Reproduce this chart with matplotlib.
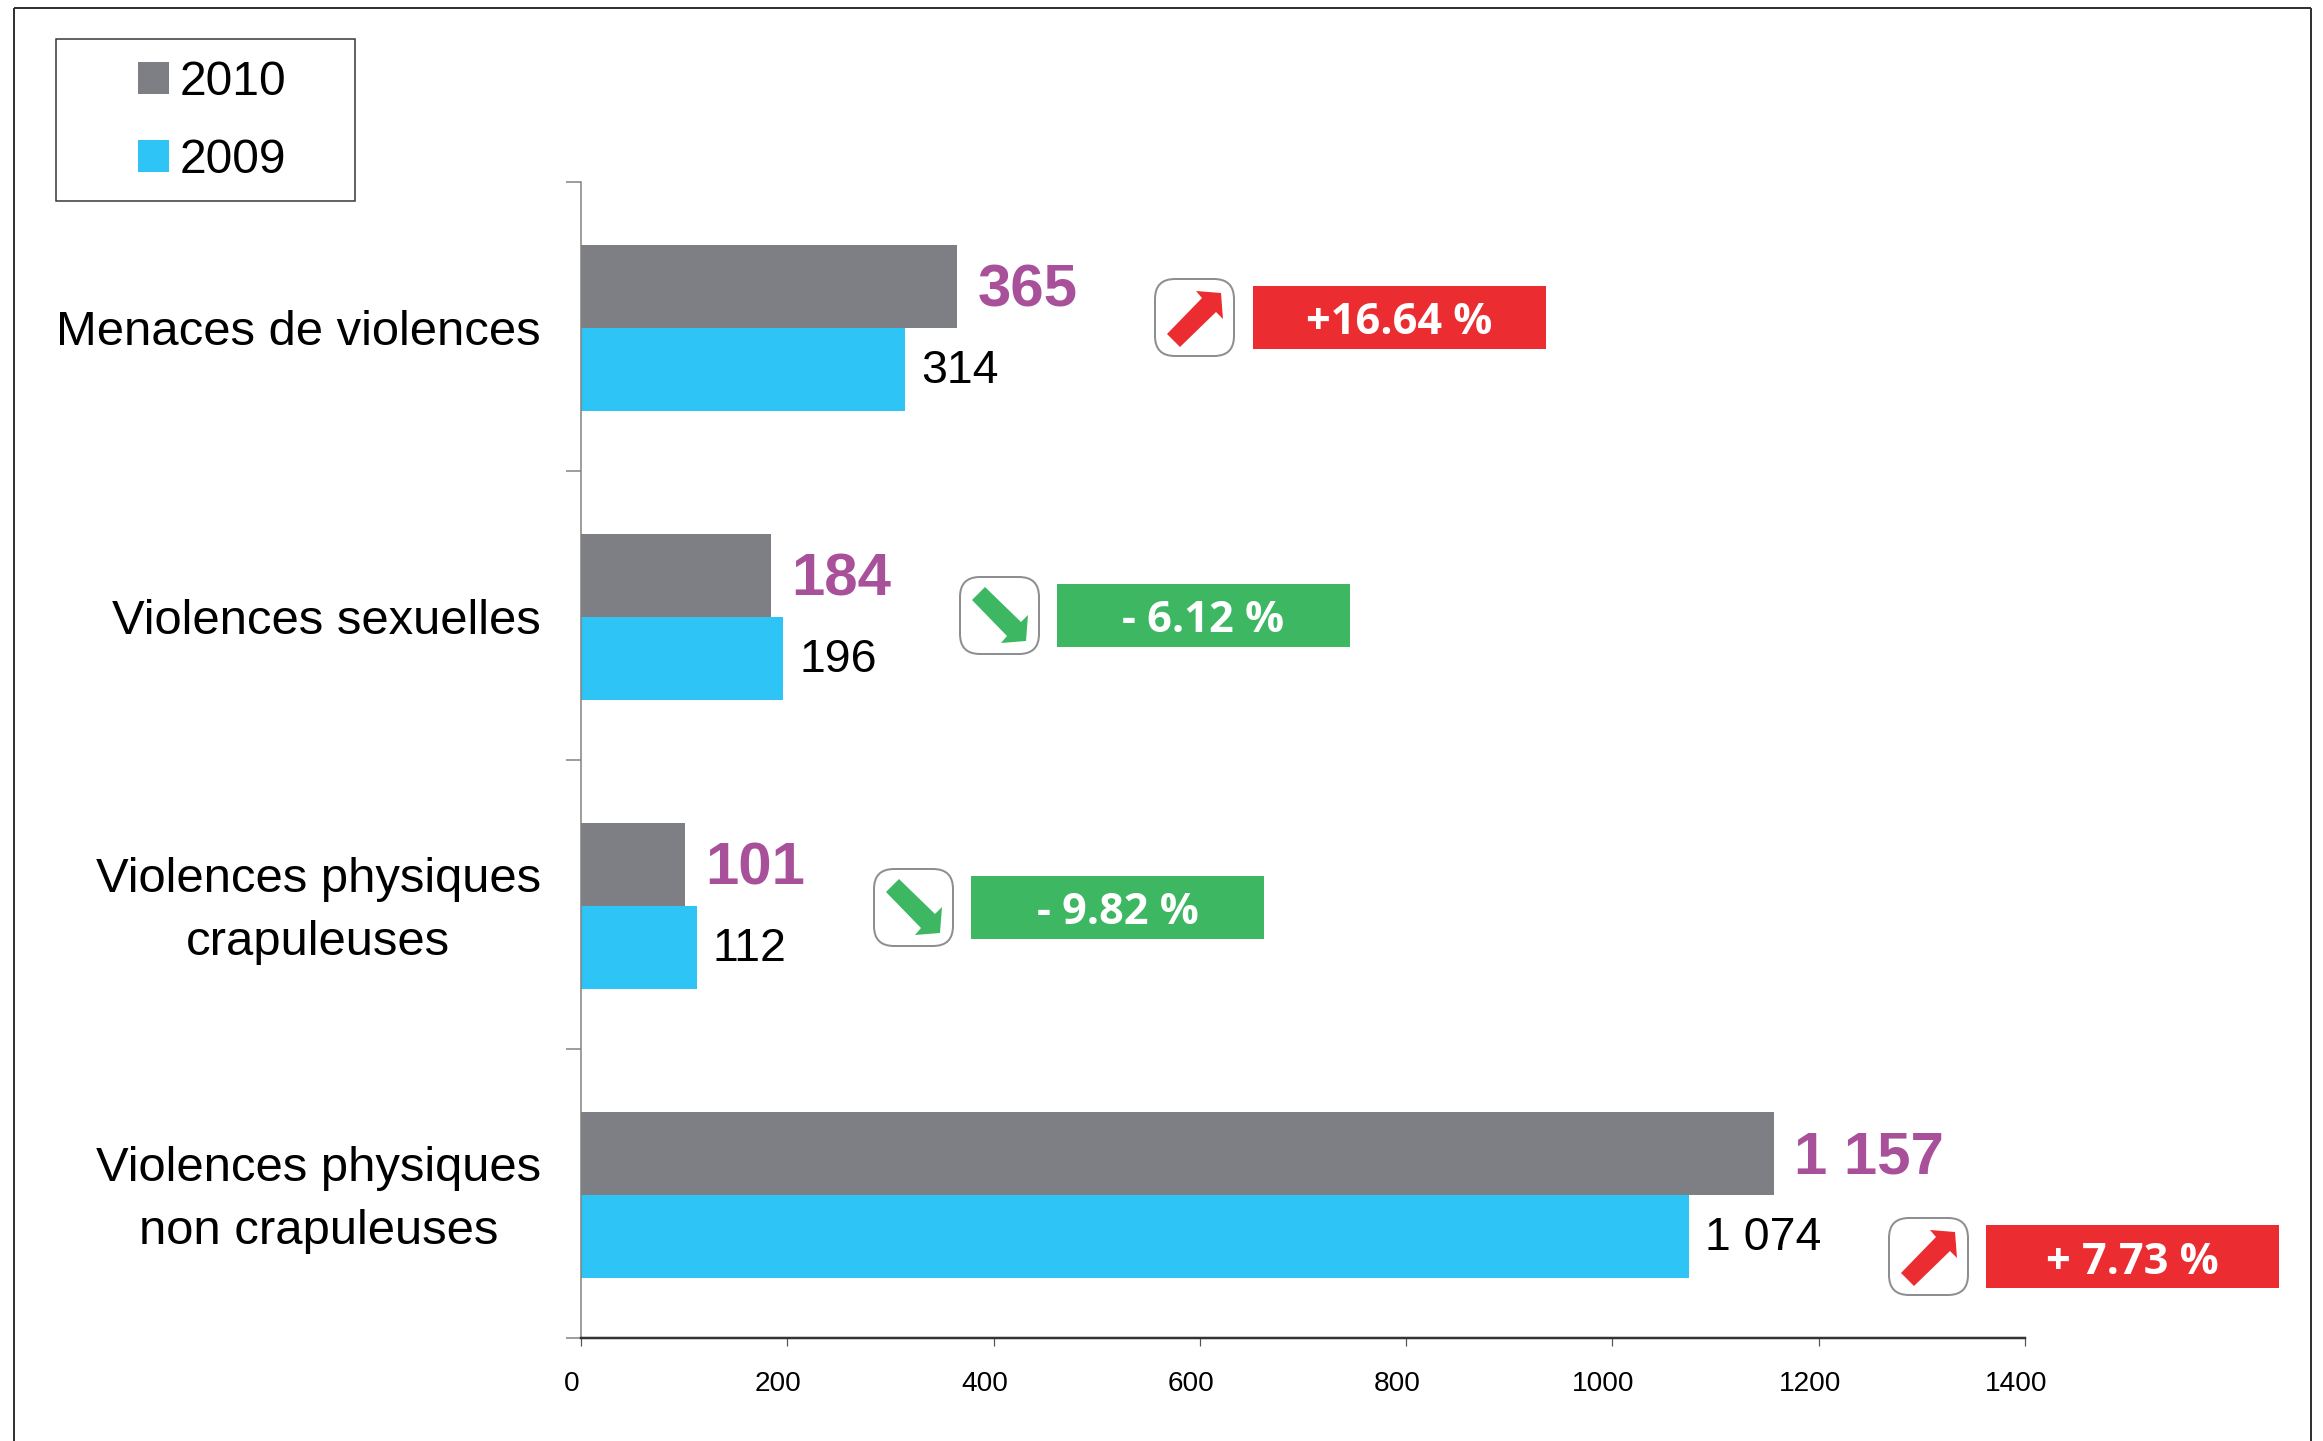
import matplotlib
matplotlib.use("Agg")
import matplotlib.pyplot as plt
from matplotlib.patches import Rectangle, FancyBboxPatch, Polygon
from matplotlib.transforms import ScaledTranslation

categories = ["Menaces de violences", "Violences sexuelles",
              "Violences physiques\ncrapuleuses", "Violences physiques\nnon crapuleuses"]
values_2010 = [365, 184, 101, 1157]
values_2009 = [314, 196, 112, 1074]
labels_2010 = ["365", "184", "101", "1 157"]
labels_2009 = ["314", "196", "112", "1 074"]
changes = ["+16.64 %", "- 6.12 %", "- 9.82 %", "+ 7.73 %"]
x_ticks = [0, 200, 400, 600, 800, 1000, 1200, 1400]

GRAY, CYAN, RED, GREEN, PURPLE = "#7E7F84", "#2EC4F6", "#EB2C31", "#3DB762", "#A8509A"
W, H = 2323, 1441
DPI = 100
px = 72 / DPI
SANS = "Liberation Sans"

fig = plt.figure(figsize=(W / DPI, H / DPI), dpi=DPI, facecolor="white")

# overlay in pixel coordinates for frame, legend box and badges
ov = fig.add_axes([0, 0, 1, 1], zorder=3)
ov.set_xlim(0, W); ov.set_ylim(H, 0); ov.axis("off"); ov.patch.set_alpha(0)

ax = fig.add_axes([581 / W, 1 - 1338 / H, (2025 - 581) / W, (1338 - 182) / H])
ax.set_xlim(0, 1400)
ax.set_ylim(4, 0)
ax.patch.set_alpha(0)
centers = [i + 0.505 for i in range(len(categories))]
bar_h = 0.288
ax.barh([c - bar_h / 2 for c in centers], values_2010, height=bar_h, color=GRAY, linewidth=0, label="2010")
ax.barh([c + bar_h / 2 for c in centers], values_2009, height=bar_h, color=CYAN, linewidth=0, label="2009")

for c, v, t in zip(centers, values_2010, labels_2010):
    ax.annotate(t, (v, c - bar_h / 2), xytext=(20 * px, -5 * px), textcoords="offset points",
                ha="left", va="center", color=PURPLE, fontsize=60 * px,
                fontweight="bold", family=SANS)
for c, v, t in zip(centers, values_2009, labels_2009):
    ax.annotate(t, (v, c + bar_h / 2), xytext=(16 * px, -1 * px), textcoords="offset points",
                ha="left", va="center", color="black", fontsize=46.5 * px, family=SANS)

for s in ("top", "right"):
    ax.spines[s].set_visible(False)
ax.spines["left"].set_color("#808080"); ax.spines["left"].set_linewidth(1.5 * px)
ax.spines["bottom"].set_color("#333333"); ax.spines["bottom"].set_linewidth(2.5 * px)

ax.set_xticks(x_ticks)
ax.set_xticklabels([str(t) for t in x_ticks], family=SANS, fontsize=28 * px, color="black")
ax.tick_params(axis="x", length=8 * px, width=1.2 * px, color="#555555", pad=25 * px)
off = ScaledTranslation(-9 / DPI, 0, fig.dpi_scale_trans)
for lb in ax.get_xticklabels():
    lb.set_transform(lb.get_transform() + off)

ax.set_yticks(range(5))
ax.set_yticklabels([])
ax.tick_params(axis="y", which="major", length=15 * px, width=1.5 * px, color="#808080")
ax.set_yticks(centers, minor=True)
ax.set_yticklabels(categories, minor=True, family=SANS, fontsize=49 * px, color="black",
                   linespacing=1.52)
ax.tick_params(axis="y", which="minor", length=0, pad=40 * px)
up = ScaledTranslation(0, 9 / DPI, fig.dpi_scale_trans)
for lb in ax.get_yticklabels(minor=True):
    lb.set_multialignment("center")
    if "\n" in lb.get_text():
        lb.set_transform(lb.get_transform() + up)

# outer frame and legend box
ov.plot([14, 14], [H, 8], color="#333333", lw=2 * px, solid_capstyle="butt")
ov.plot([14, 2311], [8, 8], color="#333333", lw=2 * px, solid_capstyle="butt")
ov.plot([2311, 2311], [8, H], color="#333333", lw=2 * px, solid_capstyle="butt")
ov.add_patch(Rectangle((55.5, 38.5), 299, 162.5, fill=False, ec="#333333", lw=1.5 * px))
h, l = ax.get_legend_handles_labels()
leg = ov.legend(h, l, loc="upper left", bbox_to_anchor=(138 / W, 1 - 60 / H),
                bbox_transform=fig.transFigure, frameon=False, prop={"family": SANS, "size": 48 * px},
                handlelength=0.65, handleheight=0.65, handletextpad=0.22,
                labelspacing=0.69, borderpad=0, borderaxespad=0)


def badge(box_x, box_y, rect_x, up, color, text):
    ov.add_patch(FancyBboxPatch((box_x + 13, box_y + 13), 53, 51,
                                boxstyle="round,pad=13,rounding_size=20", fc="white",
                                ec="#8E8E92", lw=2 * px))
    shape = [(12, 55), (25, 68), (61, 33), (68, 40), (66, 14), (41, 12), (47, 19)]
    if up:
        pts = [(box_x + a, box_y + b) for a, b in shape]
    else:
        pts = [(box_x + a, box_y + 77 - b + 1) for a, b in shape]
    ov.add_patch(Polygon(pts, closed=True, fc=color, ec="none"))
    ov.add_patch(Rectangle((rect_x, box_y + 7), 293, 63, fc=color, ec="none"))
    ov.text(rect_x + 146.5, box_y + 39, text, ha="center", va="center_baseline", color="white",
            fontsize=43.3 * px, fontweight="bold", family="Open Sans")


badge(1155, 279, 1253, True, RED, changes[0])
badge(960, 577, 1057, False, GREEN, changes[1])
badge(874, 869, 971, False, GREEN, changes[2])
badge(1889, 1218, 1986, True, RED, changes[3])

fig.savefig("out.png", dpi=DPI, facecolor="white")
